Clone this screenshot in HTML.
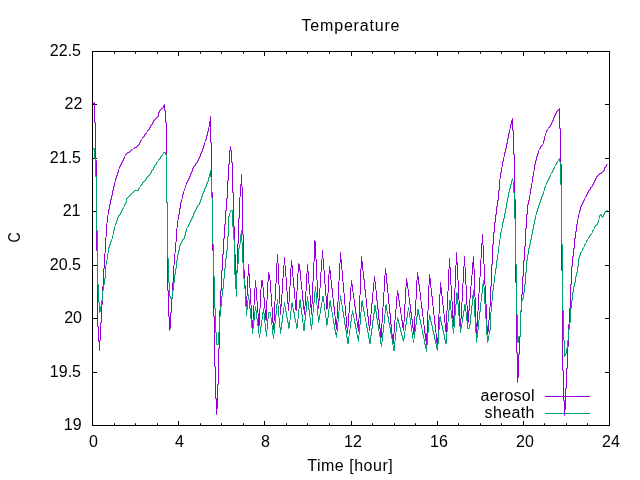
<!DOCTYPE html><html><head><meta charset="utf-8"><title>Temperature</title><style>html,body{margin:0;padding:0;background:#fff;}svg{display:block;}text{font-family:"Liberation Sans",sans-serif;font-size:16px;fill:#000;}</style></head><body>
<svg width="640" height="480" viewBox="0 0 640 480">
<rect width="640" height="480" fill="#fff"/>
<path d="M92.5,425.5v-4.5M92.5,51.5v4.5M114.5,425.5v-2.25M114.5,51.5v2.25M135.5,425.5v-2.25M135.5,51.5v2.25M157.5,425.5v-2.25M157.5,51.5v2.25M178.5,425.5v-4.5M178.5,51.5v4.5M200.5,425.5v-2.25M200.5,51.5v2.25M221.5,425.5v-2.25M221.5,51.5v2.25M243.5,425.5v-2.25M243.5,51.5v2.25M264.5,425.5v-4.5M264.5,51.5v4.5M286.5,425.5v-2.25M286.5,51.5v2.25M307.5,425.5v-2.25M307.5,51.5v2.25M329.5,425.5v-2.25M329.5,51.5v2.25M351.5,425.5v-4.5M351.5,51.5v4.5M372.5,425.5v-2.25M372.5,51.5v2.25M394.5,425.5v-2.25M394.5,51.5v2.25M415.5,425.5v-2.25M415.5,51.5v2.25M437.5,425.5v-4.5M437.5,51.5v4.5M458.5,425.5v-2.25M458.5,51.5v2.25M480.5,425.5v-2.25M480.5,51.5v2.25M501.5,425.5v-2.25M501.5,51.5v2.25M523.5,425.5v-4.5M523.5,51.5v4.5M544.5,425.5v-2.25M544.5,51.5v2.25M566.5,425.5v-2.25M566.5,51.5v2.25M587.5,425.5v-2.25M587.5,51.5v2.25M609.5,425.5v-4.5M609.5,51.5v4.5M92.5,425.5h4.5M609.5,425.5h-4.5M92.5,372.5h4.5M609.5,372.5h-4.5M92.5,318.5h4.5M609.5,318.5h-4.5M92.5,265.5h4.5M609.5,265.5h-4.5M92.5,211.5h4.5M609.5,211.5h-4.5M92.5,158.5h4.5M609.5,158.5h-4.5M92.5,104.5h4.5M609.5,104.5h-4.5M92.5,51.5h4.5M609.5,51.5h-4.5" stroke="#000" stroke-width="1" fill="none"/>
<text x="81.6" y="430.0" text-anchor="end">19</text>
<text x="81" y="377.0" text-anchor="end">19.5</text>
<text x="82" y="323.0" text-anchor="end">20</text>
<text x="81" y="270.0" text-anchor="end">20.5</text>
<text x="80.5" y="216.0" text-anchor="end">21</text>
<text x="81" y="163.0" text-anchor="end">21.5</text>
<text x="82.3" y="109.0" text-anchor="end">22</text>
<text x="81" y="56.0" text-anchor="end">22.5</text>
<text x="93.5" y="447" text-anchor="middle">0</text>
<text x="179.5" y="447" text-anchor="middle">4</text>
<text x="265.5" y="447" text-anchor="middle">8</text>
<text x="353.0" y="447" text-anchor="middle">12</text>
<text x="439.0" y="447" text-anchor="middle">16</text>
<text x="525.0" y="447" text-anchor="middle">20</text>
<text x="611.0" y="447" text-anchor="middle">24</text>
<text x="350.5" y="30.5" text-anchor="middle" textLength="98" lengthAdjust="spacing">Temperature</text>
<text x="350" y="471.3" text-anchor="middle" textLength="85.5" lengthAdjust="spacing">Time [hour]</text>
<text transform="translate(20,237.5) rotate(-90) scale(0.88,1)" text-anchor="middle">C</text>
<polyline points="92.5,104.5 94.5,102.5 94.5,122.5 95.5,122.5 95.5,160.5 96.5,160.5 96.5,250.5 97.5,250.5 97.5,326.5 98.5,326.5 98.5,341.5 99.5,341.5 99.5,350.5 99.5,340.5 100.5,340.5 100.5,322.5 101.5,322.5 101.5,304.5 102.5,304.5 102.5,286.5 103.5,285.5 103.5,268.5 104.5,268.5 104.5,253.5 105.5,252.5 105.5,237.5 106.5,236.5 106.5,223.5 107.5,222.5 107.5,215.5 108.5,214.5 108.5,209.5 109.5,209.5 109.5,204.5 110.5,204.5 110.5,199.5 111.5,199.5 111.5,195.5 112.5,195.5 112.5,190.5 113.5,190.5 113.5,186.5 114.5,186.5 114.5,182.5 115.5,181.5 115.5,178.5 116.5,178.5 116.5,175.5 117.5,175.5 117.5,172.5 118.5,172.5 118.5,169.5 119.5,168.5 119.5,166.5 120.5,166.5 120.5,164.5 121.5,164.5 121.5,162.5 122.5,162.5 122.5,160.5 123.5,160.5 123.5,158.5 124.5,158.5 124.5,156.5 125.5,155.5 125.5,154.5 126.5,154.5 126.5,153.5 127.5,153.5 127.5,152.5 129.5,152.5 129.5,151.5 130.5,151.5 130.5,150.5 131.5,150.5 131.5,149.5 132.5,149.5 133.5,148.5 134.5,148.5 134.5,147.5 136.5,147.5 136.5,146.5 137.5,146.5 137.5,145.5 138.5,145.5 138.5,144.5 139.5,144.5 139.5,142.5 140.5,142.5 140.5,140.5 141.5,140.5 141.5,139.5 142.5,138.5 142.5,137.5 143.5,137.5 143.5,136.5 144.5,136.5 144.5,134.5 145.5,134.5 145.5,133.5 146.5,133.5 146.5,132.5 147.5,131.5 147.5,130.5 148.5,130.5 148.5,129.5 149.5,129.5 149.5,127.5 150.5,127.5 150.5,125.5 151.5,125.5 151.5,124.5 152.5,124.5 152.5,122.5 153.5,122.5 153.5,120.5 154.5,120.5 154.5,119.5 155.5,119.5 155.5,118.5 156.5,118.5 156.5,117.5 157.5,117.5 157.5,116.5 158.5,116.5 158.5,112.5 159.5,112.5 159.5,110.5 160.5,110.5 160.5,109.5 161.5,109.5 161.5,108.5 162.5,108.5 162.5,107.5 163.5,107.5 163.5,105.5 164.5,105.5 164.5,104.5 164.5,110.5 165.5,110.5 165.5,122.5 166.5,122.5 166.5,202.5 167.5,202.5 167.5,290.5 168.5,290.5 168.5,316.5 169.5,316.5 169.5,330.5 169.5,328.5 170.5,328.5 170.5,312.5 171.5,312.5 171.5,298.5 172.5,298.5 172.5,282.5 173.5,282.5 173.5,265.5 174.5,264.5 174.5,253.5 175.5,252.5 175.5,242.5 176.5,241.5 176.5,228.5 177.5,227.5 177.5,220.5 178.5,219.5 178.5,214.5 179.5,214.5 179.5,208.5 180.5,208.5 180.5,202.5 181.5,202.5 181.5,199.5 182.5,198.5 182.5,194.5 183.5,194.5 183.5,191.5 184.5,190.5 184.5,188.5 185.5,187.5 185.5,185.5 186.5,184.5 186.5,182.5 187.5,182.5 187.5,180.5 188.5,180.5 188.5,178.5 189.5,178.5 189.5,176.5 190.5,176.5 190.5,173.5 191.5,173.5 191.5,171.5 192.5,171.5 192.5,168.5 193.5,168.5 193.5,166.5 194.5,166.5 194.5,165.5 195.5,165.5 195.5,163.5 196.5,163.5 196.5,162.5 197.5,162.5 197.5,160.5 198.5,160.5 198.5,158.5 199.5,158.5 199.5,156.5 200.5,156.5 200.5,153.5 201.5,153.5 201.5,151.5 202.5,151.5 202.5,148.5 203.5,148.5 203.5,145.5 204.5,145.5 204.5,142.5 205.5,141.5 205.5,139.5 206.5,139.5 206.5,135.5 207.5,135.5 207.5,131.5 208.5,131.5 208.5,127.5 209.5,126.5 209.5,121.5 210.5,120.5 210.5,116.5 210.5,142.5 211.5,142.5 211.5,192.5 212.5,192.5 212.5,250.5 213.5,250.5 213.5,316.5 214.5,316.5 214.5,366.5 215.5,366.5 215.5,398.5 216.5,398.5 216.5,414.5 216.5,408.5 217.5,408.5 217.5,384.5 218.5,384.5 218.5,348.5 219.5,348.5 219.5,310.5 220.5,310.5 220.5,290.5 221.5,290.5 221.5,270.5 222.5,270.5 222.5,254.5 223.5,254.5 223.5,238.5 224.5,238.5 224.5,224.5 225.5,224.5 225.5,210.5 226.5,210.5 226.5,198.5 227.5,198.5 227.5,180.5 228.5,180.5 228.5,164.5 229.5,164.5 229.5,150.5 230.5,150.5 230.5,146.5 230.5,150.5 231.5,150.5 231.5,162.5 232.5,162.5 232.5,192.5 233.5,192.5 233.5,226.5 234.5,226.5 234.5,254.5 235.5,254.5 235.5,288.5 236.5,288.5 236.5,272.5 237.5,272.5 237.5,243.5 238.5,243.5 238.5,218.5 239.5,218.5 239.5,197.5 240.5,196.5 240.5,184.5 241.5,183.5 241.5,174.5 241.5,185.5 242.5,187.5 242.5,234.5 243.5,234.5 243.5,268.5 244.5,270.5 244.5,284.5 245.5,285.5 245.5,298.5 246.5,299.5 246.5,306.5 246.5,296.5 247.5,295.5 247.5,276.5 248.5,275.5 248.5,264.5 248.5,272.5 249.5,273.5 249.5,287.5 250.5,288.5 250.5,304.5 251.5,305.5 251.5,319.5 252.5,320.5 252.5,328.5 252.5,320.5 253.5,319.5 253.5,305.5 254.5,304.5 254.5,288.5 255.5,287.5 255.5,280.5 255.5,286.5 256.5,287.5 256.5,300.5 257.5,301.5 257.5,312.5 258.5,313.5 258.5,326.5 259.5,325.5 259.5,309.5 260.5,307.5 260.5,289.5 261.5,288.5 261.5,280.5 262.5,280.5 262.5,286.5 263.5,287.5 263.5,297.5 264.5,297.5 264.5,308.5 265.5,309.5 265.5,319.5 266.5,320.5 266.5,300.5 267.5,299.5 267.5,282.5 268.5,281.5 268.5,272.5 268.5,274.5 269.5,274.5 269.5,279.5 270.5,280.5 270.5,292.5 271.5,293.5 271.5,306.5 272.5,307.5 272.5,322.5 273.5,323.5 273.5,329.5 273.5,321.5 274.5,320.5 274.5,301.5 275.5,300.5 275.5,283.5 276.5,282.5 276.5,263.5 277.5,262.5 277.5,254.5 277.5,262.5 278.5,264.5 278.5,284.5 279.5,285.5 279.5,303.5 280.5,304.5 280.5,314.5 280.5,307.5 281.5,306.5 281.5,294.5 282.5,293.5 282.5,278.5 283.5,277.5 283.5,265.5 284.5,264.5 284.5,257.5 284.5,264.5 285.5,265.5 285.5,276.5 286.5,277.5 286.5,290.5 287.5,291.5 287.5,303.5 288.5,304.5 288.5,310.5 288.5,302.5 289.5,301.5 289.5,286.5 290.5,285.5 290.5,268.5 291.5,267.5 291.5,260.5 291.5,264.5 292.5,265.5 292.5,276.5 293.5,277.5 293.5,287.5 294.5,287.5 294.5,298.5 295.5,299.5 295.5,309.5 296.5,310.5 296.5,291.5 297.5,290.5 297.5,273.5 298.5,272.5 298.5,263.5 298.5,264.5 299.5,264.5 299.5,270.5 300.5,270.5 300.5,280.5 301.5,281.5 301.5,289.5 302.5,290.5 302.5,300.5 303.5,300.5 303.5,309.5 304.5,310.5 304.5,314.5 304.5,306.5 305.5,305.5 305.5,291.5 306.5,290.5 306.5,273.5 307.5,272.5 307.5,264.5 307.5,270.5 308.5,271.5 308.5,283.5 309.5,284.5 309.5,294.5 310.5,295.5 310.5,307.5 311.5,308.5 311.5,314.5 311.5,304.5 312.5,303.5 312.5,282.5 313.5,280.5 313.5,262.5 314.5,261.5 314.5,240.5 315.5,241.5 315.5,258.5 316.5,259.5 316.5,279.5 317.5,280.5 317.5,297.5 318.5,299.5 318.5,308.5 318.5,301.5 319.5,300.5 319.5,288.5 320.5,287.5 320.5,272.5 321.5,271.5 321.5,259.5 322.5,258.5 322.5,250.5 322.5,257.5 323.5,258.5 323.5,269.5 324.5,270.5 324.5,283.5 325.5,284.5 325.5,295.5 326.5,296.5 326.5,309.5 327.5,308.5 327.5,293.5 328.5,292.5 328.5,274.5 329.5,273.5 329.5,266.5 329.5,269.5 330.5,270.5 330.5,279.5 331.5,280.5 331.5,288.5 332.5,288.5 332.5,297.5 333.5,298.5 333.5,306.5 334.5,306.5 334.5,315.5 335.5,316.5 335.5,324.5 336.5,324.5 336.5,329.5 336.5,319.5 337.5,318.5 337.5,302.5 338.5,300.5 338.5,281.5 339.5,280.5 339.5,263.5 340.5,262.5 340.5,252.5 340.5,258.5 341.5,259.5 341.5,269.5 342.5,270.5 342.5,281.5 343.5,282.5 343.5,292.5 344.5,293.5 344.5,304.5 345.5,305.5 345.5,315.5 346.5,316.5 346.5,327.5 347.5,328.5 347.5,333.5 347.5,327.5 348.5,326.5 348.5,313.5 349.5,312.5 349.5,301.5 350.5,300.5 350.5,287.5 351.5,286.5 351.5,280.5 351.5,284.5 352.5,284.5 352.5,291.5 353.5,292.5 353.5,298.5 354.5,299.5 354.5,306.5 355.5,306.5 355.5,313.5 356.5,313.5 356.5,320.5 357.5,321.5 357.5,327.5 358.5,327.5 358.5,331.5 358.5,319.5 359.5,317.5 359.5,295.5 360.5,294.5 360.5,269.5 361.5,267.5 361.5,256.5 361.5,261.5 362.5,261.5 362.5,270.5 363.5,271.5 363.5,279.5 364.5,279.5 364.5,289.5 365.5,289.5 365.5,297.5 366.5,298.5 366.5,307.5 367.5,308.5 367.5,316.5 368.5,316.5 368.5,325.5 369.5,326.5 369.5,330.5 369.5,325.5 370.5,325.5 370.5,314.5 371.5,313.5 371.5,303.5 372.5,303.5 372.5,292.5 373.5,291.5 373.5,282.5 374.5,281.5 374.5,276.5 374.5,280.5 375.5,281.5 375.5,289.5 376.5,290.5 376.5,300.5 377.5,300.5 377.5,309.5 378.5,309.5 378.5,319.5 379.5,319.5 379.5,328.5 380.5,328.5 380.5,338.5 381.5,337.5 381.5,323.5 382.5,322.5 382.5,307.5 383.5,306.5 383.5,292.5 384.5,291.5 384.5,275.5 385.5,274.5 385.5,268.5 385.5,272.5 386.5,273.5 386.5,283.5 387.5,283.5 387.5,292.5 388.5,293.5 388.5,303.5 389.5,304.5 389.5,313.5 390.5,313.5 390.5,324.5 391.5,324.5 391.5,333.5 392.5,334.5 392.5,344.5 393.5,343.5 393.5,333.5 394.5,332.5 394.5,320.5 395.5,319.5 395.5,309.5 396.5,308.5 396.5,296.5 397.5,295.5 397.5,290.5 397.5,293.5 398.5,293.5 398.5,300.5 399.5,300.5 399.5,306.5 400.5,307.5 400.5,313.5 401.5,314.5 401.5,320.5 402.5,320.5 402.5,327.5 403.5,327.5 403.5,330.5 403.5,322.5 404.5,321.5 404.5,304.5 405.5,303.5 405.5,287.5 406.5,286.5 406.5,278.5 406.5,281.5 407.5,282.5 407.5,288.5 408.5,289.5 408.5,296.5 409.5,297.5 409.5,304.5 410.5,304.5 410.5,312.5 411.5,312.5 411.5,319.5 412.5,319.5 412.5,327.5 413.5,327.5 413.5,334.5 414.5,334.5 414.5,316.5 415.5,315.5 415.5,300.5 416.5,298.5 416.5,280.5 417.5,279.5 417.5,272.5 417.5,275.5 418.5,276.5 418.5,284.5 419.5,284.5 419.5,291.5 420.5,292.5 420.5,300.5 421.5,301.5 421.5,308.5 422.5,308.5 422.5,316.5 423.5,317.5 423.5,324.5 424.5,325.5 424.5,333.5 425.5,333.5 425.5,340.5 426.5,341.5 426.5,345.5 426.5,333.5 427.5,332.5 427.5,311.5 428.5,309.5 428.5,285.5 429.5,284.5 429.5,274.5 429.5,277.5 430.5,278.5 430.5,287.5 431.5,288.5 431.5,296.5 432.5,296.5 432.5,305.5 433.5,306.5 433.5,314.5 434.5,315.5 434.5,324.5 435.5,324.5 435.5,332.5 436.5,333.5 436.5,342.5 437.5,343.5 437.5,346.5 437.5,337.5 438.5,336.5 438.5,314.5 439.5,313.5 439.5,294.5 440.5,293.5 440.5,282.5 440.5,286.5 441.5,287.5 441.5,295.5 442.5,296.5 442.5,304.5 443.5,305.5 443.5,313.5 444.5,314.5 444.5,322.5 445.5,323.5 445.5,331.5 446.5,332.5 446.5,311.5 447.5,309.5 447.5,291.5 448.5,290.5 448.5,269.5 449.5,268.5 449.5,258.5 449.5,266.5 450.5,267.5 450.5,284.5 451.5,285.5 451.5,300.5 452.5,301.5 452.5,318.5 453.5,319.5 453.5,326.5 453.5,315.5 454.5,314.5 454.5,289.5 455.5,287.5 455.5,265.5 456.5,264.5 456.5,252.5 456.5,261.5 457.5,262.5 457.5,279.5 458.5,280.5 458.5,299.5 459.5,300.5 459.5,317.5 460.5,318.5 460.5,328.5 460.5,319.5 461.5,318.5 461.5,302.5 462.5,301.5 462.5,283.5 463.5,282.5 463.5,266.5 464.5,265.5 464.5,256.5 464.5,266.5 465.5,267.5 465.5,284.5 466.5,285.5 466.5,304.5 467.5,305.5 467.5,321.5 468.5,322.5 468.5,310.5 469.5,310.5 469.5,299.5 470.5,298.5 470.5,286.5 471.5,285.5 471.5,275.5 472.5,274.5 472.5,262.5 473.5,261.5 473.5,256.5 473.5,267.5 474.5,269.5 474.5,296.5 475.5,297.5 475.5,321.5 476.5,323.5 476.5,336.5 476.5,327.5 477.5,326.5 477.5,311.5 478.5,310.5 478.5,293.5 479.5,292.5 479.5,277.5 480.5,276.5 480.5,259.5 481.5,258.5 481.5,243.5 482.5,242.5 482.5,234.5 482.5,244.5 483.5,245.5 483.5,263.5 484.5,264.5 484.5,284.5 485.5,285.5 485.5,303.5 486.5,304.5 486.5,324.5 487.5,326.5 487.5,334.5 487.5,331.5 488.5,331.5 488.5,320.5 489.5,319.5 489.5,307.5 490.5,306.5 490.5,286.5 491.5,286.5 491.5,264.5 492.5,264.5 492.5,244.5 493.5,244.5 493.5,232.5 494.5,232.5 494.5,222.5 495.5,222.5 495.5,214.5 496.5,214.5 496.5,206.5 497.5,206.5 497.5,200.5 498.5,200.5 498.5,190.5 499.5,190.5 499.5,179.5 500.5,178.5 500.5,172.5 501.5,172.5 501.5,167.5 502.5,166.5 502.5,161.5 503.5,161.5 503.5,157.5 504.5,156.5 504.5,152.5 505.5,152.5 505.5,148.5 506.5,148.5 506.5,143.5 507.5,143.5 507.5,138.5 508.5,138.5 508.5,133.5 509.5,133.5 509.5,129.5 510.5,128.5 510.5,124.5 511.5,124.5 511.5,120.5 512.5,120.5 512.5,118.5 512.5,130.5 513.5,130.5 513.5,154.5 514.5,154.5 514.5,198.5 515.5,199.5 515.5,282.5 516.5,282.5 516.5,352.5 517.5,352.5 517.5,382.5 517.5,378.5 518.5,377.5 518.5,354.5 519.5,354.5 519.5,336.5 520.5,336.5 520.5,312.5 521.5,311.5 521.5,294.5 522.5,294.5 522.5,276.5 523.5,276.5 523.5,260.5 524.5,260.5 524.5,246.5 525.5,246.5 525.5,228.5 526.5,228.5 526.5,214.5 527.5,214.5 527.5,204.5 528.5,204.5 528.5,200.5 529.5,200.5 529.5,195.5 530.5,194.5 530.5,188.5 531.5,188.5 531.5,183.5 532.5,182.5 532.5,176.5 533.5,176.5 533.5,171.5 534.5,170.5 534.5,164.5 535.5,164.5 535.5,160.5 536.5,160.5 536.5,156.5 537.5,156.5 537.5,153.5 538.5,153.5 538.5,150.5 539.5,149.5 539.5,148.5 540.5,148.5 540.5,146.5 541.5,146.5 541.5,145.5 542.5,145.5 542.5,144.5 543.5,143.5 543.5,140.5 544.5,140.5 544.5,136.5 545.5,135.5 545.5,133.5 546.5,132.5 546.5,130.5 547.5,130.5 547.5,129.5 548.5,128.5 548.5,127.5 549.5,127.5 549.5,126.5 550.5,126.5 550.5,124.5 551.5,124.5 551.5,122.5 552.5,122.5 552.5,120.5 553.5,120.5 553.5,117.5 554.5,117.5 554.5,115.5 555.5,115.5 555.5,113.5 556.5,113.5 556.5,111.5 557.5,111.5 557.5,110.5 558.5,110.5 558.5,109.5 559.5,109.5 559.5,108.5 559.5,128.5 560.5,128.5 560.5,164.5 561.5,164.5 561.5,270.5 562.5,270.5 562.5,370.5 563.5,370.5 563.5,400.5 564.5,400.5 564.5,415.5 564.5,410.5 565.5,409.5 565.5,388.5 566.5,388.5 566.5,368.5 567.5,368.5 567.5,346.5 568.5,346.5 568.5,324.5 569.5,324.5 569.5,308.5 570.5,308.5 570.5,284.5 571.5,284.5 571.5,266.5 572.5,266.5 572.5,256.5 573.5,256.5 573.5,248.5 574.5,248.5 574.5,238.5 575.5,238.5 575.5,231.5 576.5,231.5 576.5,224.5 577.5,224.5 577.5,219.5 578.5,218.5 578.5,214.5 579.5,213.5 579.5,210.5 580.5,210.5 580.5,206.5 581.5,206.5 581.5,204.5 582.5,204.5 582.5,202.5 583.5,202.5 583.5,200.5 584.5,200.5 584.5,198.5 585.5,197.5 585.5,196.5 586.5,196.5 586.5,194.5 587.5,194.5 587.5,192.5 588.5,192.5 588.5,190.5 589.5,190.5 589.5,189.5 590.5,189.5 590.5,187.5 591.5,187.5 591.5,186.5 592.5,186.5 592.5,184.5 593.5,184.5 593.5,182.5 594.5,182.5 594.5,180.5 595.5,180.5 595.5,178.5 596.5,178.5 596.5,176.5 597.5,176.5 597.5,175.5 598.5,175.5 598.5,174.5 599.5,174.5 599.5,173.5 601.5,173.5 601.5,172.5 602.5,172.5 602.5,171.5 603.5,171.5 603.5,170.5 604.5,170.5 604.5,167.5 605.5,167.5 605.5,166.5 606.5,166.5 606.5,164.5 607.5,164.5" fill="none" stroke="#9400d3" stroke-width="1" stroke-linejoin="bevel"/>
<text x="534.5" y="400.8" text-anchor="end" textLength="54" lengthAdjust="spacing">aerosol</text>
<path d="M545,396.5h45" stroke="#9400d3" stroke-width="1"/>
<polyline points="92.5,150.5 92.5,149.5 93.5,149.5 93.5,148.5 94.5,148.5 94.5,158.5 95.5,158.5 95.5,176.5 96.5,176.5 96.5,230.5 97.5,230.5 97.5,284.5 98.5,284.5 98.5,302.5 99.5,302.5 99.5,312.5 99.5,311.5 100.5,311.5 100.5,306.5 101.5,306.5 101.5,300.5 102.5,300.5 102.5,290.5 103.5,290.5 103.5,284.5 104.5,284.5 104.5,278.5 105.5,278.5 105.5,265.5 106.5,264.5 106.5,260.5 107.5,259.5 107.5,253.5 108.5,252.5 108.5,247.5 109.5,247.5 109.5,244.5 110.5,244.5 110.5,241.5 111.5,241.5 111.5,239.5 112.5,238.5 112.5,235.5 113.5,234.5 113.5,230.5 114.5,230.5 114.5,226.5 115.5,225.5 115.5,223.5 116.5,223.5 116.5,220.5 117.5,220.5 117.5,217.5 118.5,217.5 118.5,215.5 119.5,215.5 119.5,214.5 120.5,214.5 120.5,212.5 121.5,212.5 121.5,210.5 122.5,210.5 122.5,208.5 123.5,208.5 123.5,207.5 124.5,206.5 124.5,204.5 125.5,204.5 125.5,202.5 126.5,202.5 126.5,198.5 127.5,198.5 127.5,197.5 128.5,197.5 128.5,196.5 129.5,196.5 129.5,195.5 130.5,195.5 130.5,194.5 131.5,194.5 131.5,193.5 132.5,193.5 132.5,192.5 133.5,192.5 133.5,191.5 134.5,191.5 134.5,190.5 138.5,190.5 138.5,188.5 139.5,188.5 139.5,187.5 140.5,186.5 140.5,185.5 141.5,185.5 141.5,184.5 142.5,184.5 142.5,182.5 143.5,182.5 143.5,181.5 144.5,181.5 144.5,180.5 145.5,180.5 145.5,179.5 146.5,179.5 146.5,177.5 147.5,177.5 147.5,176.5 148.5,176.5 148.5,175.5 149.5,175.5 149.5,174.5 150.5,174.5 150.5,172.5 151.5,172.5 151.5,170.5 152.5,170.5 152.5,169.5 153.5,169.5 153.5,167.5 154.5,167.5 154.5,165.5 155.5,165.5 155.5,164.5 156.5,164.5 156.5,162.5 157.5,162.5 157.5,161.5 158.5,160.5 158.5,159.5 159.5,159.5 159.5,158.5 160.5,158.5 160.5,156.5 161.5,156.5 161.5,155.5 162.5,155.5 162.5,154.5 163.5,153.5 163.5,152.5 165.5,152.5 165.5,154.5 166.5,154.5 166.5,202.5 167.5,202.5 167.5,258.5 168.5,258.5 168.5,282.5 169.5,282.5 169.5,296.5 170.5,296.5 170.5,298.5 171.5,297.5 172.5,297.5 172.5,290.5 173.5,290.5 173.5,282.5 174.5,282.5 174.5,274.5 175.5,274.5 175.5,268.5 176.5,268.5 176.5,260.5 177.5,260.5 177.5,254.5 178.5,254.5 178.5,250.5 179.5,250.5 179.5,245.5 180.5,245.5 180.5,243.5 181.5,243.5 181.5,241.5 182.5,241.5 182.5,239.5 183.5,239.5 183.5,238.5 184.5,238.5 184.5,235.5 185.5,235.5 185.5,231.5 186.5,231.5 186.5,228.5 187.5,227.5 187.5,226.5 188.5,226.5 188.5,224.5 189.5,224.5 189.5,222.5 190.5,222.5 190.5,220.5 191.5,220.5 191.5,218.5 192.5,218.5 192.5,216.5 193.5,216.5 193.5,213.5 194.5,213.5 194.5,211.5 195.5,211.5 195.5,209.5 196.5,209.5 196.5,207.5 197.5,207.5 197.5,205.5 198.5,205.5 198.5,204.5 199.5,204.5 199.5,202.5 200.5,202.5 200.5,199.5 201.5,199.5 201.5,196.5 202.5,196.5 202.5,193.5 203.5,193.5 203.5,191.5 204.5,191.5 204.5,188.5 205.5,188.5 205.5,186.5 206.5,186.5 206.5,183.5 207.5,183.5 207.5,181.5 208.5,181.5 208.5,177.5 209.5,177.5 209.5,173.5 210.5,173.5 210.5,170.5 210.5,176.5 211.5,177.5 211.5,197.5 212.5,198.5 212.5,243.5 213.5,244.5 213.5,276.5 214.5,276.5 214.5,308.5 215.5,308.5 215.5,332.5 216.5,332.5 216.5,344.5 218.5,344.5 218.5,332.5 219.5,332.5 219.5,316.5 220.5,316.5 220.5,306.5 221.5,306.5 221.5,296.5 222.5,296.5 222.5,288.5 223.5,288.5 223.5,278.5 224.5,278.5 224.5,268.5 225.5,268.5 225.5,258.5 226.5,258.5 226.5,250.5 227.5,250.5 227.5,236.5 228.5,236.5 228.5,216.5 229.5,216.5 229.5,213.5 230.5,212.5 230.5,210.5 232.5,210.5 232.5,226.5 233.5,226.5 233.5,238.5 234.5,240.5 234.5,274.5 235.5,274.5 235.5,288.5 236.5,288.5 236.5,296.5 236.5,270.5 237.5,270.5 237.5,263.5 238.5,263.5 238.5,248.5 239.5,248.5 239.5,244.5 240.5,243.5 240.5,234.5 241.5,233.5 241.5,230.5 241.5,240.5 242.5,242.5 242.5,262.5 243.5,262.5 243.5,278.5 244.5,278.5 244.5,288.5 245.5,288.5 245.5,306.5 246.5,307.5 246.5,315.5 246.5,310.5 247.5,309.5 247.5,300.5 248.5,299.5 248.5,294.5 248.5,298.5 249.5,299.5 249.5,308.5 250.5,308.5 250.5,318.5 251.5,319.5 251.5,327.5 252.5,328.5 252.5,333.5 252.5,329.5 253.5,328.5 253.5,320.5 254.5,320.5 254.5,311.5 255.5,310.5 255.5,306.5 255.5,310.5 256.5,310.5 256.5,318.5 257.5,318.5 257.5,325.5 258.5,326.5 258.5,333.5 259.5,334.5 259.5,337.5 259.5,334.5 260.5,333.5 260.5,326.5 261.5,326.5 261.5,320.5 262.5,319.5 262.5,312.5 263.5,312.5 263.5,308.5 263.5,313.5 264.5,313.5 264.5,322.5 265.5,323.5 265.5,331.5 266.5,331.5 266.5,336.5 266.5,330.5 267.5,329.5 267.5,319.5 268.5,318.5 268.5,312.5 270.5,312.5 270.5,316.5 271.5,317.5 271.5,324.5 272.5,325.5 272.5,334.5 273.5,334.5 273.5,338.5 273.5,334.5 274.5,333.5 274.5,323.5 275.5,323.5 275.5,314.5 276.5,314.5 276.5,304.5 277.5,303.5 277.5,299.5 277.5,304.5 278.5,305.5 278.5,316.5 279.5,317.5 279.5,327.5 280.5,327.5 280.5,333.5 280.5,329.5 281.5,329.5 281.5,322.5 282.5,322.5 282.5,314.5 283.5,313.5 283.5,307.5 284.5,306.5 284.5,302.5 284.5,305.5 285.5,306.5 285.5,311.5 286.5,311.5 286.5,317.5 287.5,317.5 287.5,322.5 288.5,322.5 288.5,328.5 289.5,327.5 289.5,320.5 290.5,319.5 290.5,311.5 291.5,310.5 291.5,303.5 292.5,302.5 292.5,307.5 293.5,308.5 293.5,312.5 294.5,312.5 294.5,318.5 295.5,318.5 295.5,322.5 296.5,323.5 296.5,328.5 297.5,327.5 297.5,319.5 298.5,318.5 298.5,309.5 299.5,308.5 299.5,300.5 300.5,299.5 300.5,307.5 301.5,307.5 301.5,314.5 302.5,314.5 302.5,322.5 303.5,323.5 303.5,330.5 304.5,330.5 304.5,320.5 305.5,320.5 305.5,311.5 306.5,311.5 306.5,301.5 307.5,301.5 307.5,296.5 307.5,300.5 308.5,301.5 308.5,309.5 309.5,309.5 309.5,316.5 310.5,317.5 310.5,325.5 311.5,325.5 311.5,329.5 311.5,324.5 312.5,324.5 312.5,313.5 313.5,312.5 313.5,302.5 314.5,302.5 314.5,291.5 315.5,290.5 315.5,286.5 315.5,291.5 316.5,292.5 316.5,304.5 317.5,305.5 317.5,315.5 318.5,316.5 318.5,322.5 318.5,319.5 319.5,319.5 319.5,314.5 320.5,313.5 320.5,307.5 321.5,307.5 321.5,302.5 322.5,301.5 322.5,296.5 323.5,296.5 323.5,302.5 324.5,303.5 324.5,310.5 325.5,311.5 325.5,317.5 326.5,318.5 326.5,325.5 327.5,324.5 327.5,317.5 328.5,317.5 328.5,309.5 329.5,308.5 329.5,301.5 330.5,300.5 330.5,306.5 331.5,306.5 331.5,311.5 332.5,312.5 332.5,317.5 333.5,318.5 333.5,323.5 334.5,323.5 334.5,329.5 335.5,329.5 335.5,334.5 336.5,334.5 336.5,337.5 336.5,332.5 337.5,331.5 337.5,322.5 338.5,321.5 338.5,311.5 339.5,310.5 339.5,301.5 340.5,300.5 340.5,295.5 340.5,298.5 341.5,299.5 341.5,304.5 342.5,305.5 342.5,311.5 343.5,311.5 343.5,317.5 344.5,317.5 344.5,324.5 345.5,324.5 345.5,330.5 346.5,330.5 346.5,337.5 347.5,337.5 347.5,343.5 348.5,343.5 348.5,336.5 349.5,335.5 349.5,329.5 350.5,328.5 350.5,321.5 351.5,321.5 351.5,314.5 352.5,314.5 352.5,310.5 352.5,313.5 353.5,313.5 353.5,317.5 354.5,318.5 354.5,323.5 355.5,323.5 355.5,328.5 356.5,328.5 356.5,333.5 357.5,334.5 357.5,338.5 358.5,338.5 358.5,341.5 358.5,335.5 359.5,334.5 359.5,324.5 360.5,324.5 360.5,312.5 361.5,311.5 361.5,301.5 362.5,300.5 362.5,306.5 363.5,306.5 363.5,311.5 364.5,311.5 364.5,316.5 365.5,317.5 365.5,321.5 366.5,322.5 366.5,327.5 367.5,327.5 367.5,332.5 368.5,332.5 368.5,338.5 369.5,338.5 369.5,343.5 370.5,343.5 370.5,335.5 371.5,335.5 371.5,328.5 372.5,328.5 372.5,320.5 373.5,320.5 373.5,313.5 374.5,313.5 374.5,305.5 375.5,305.5 375.5,311.5 376.5,311.5 376.5,318.5 377.5,318.5 377.5,324.5 378.5,324.5 378.5,330.5 379.5,331.5 379.5,336.5 380.5,337.5 380.5,343.5 381.5,343.5 381.5,346.5 381.5,342.5 382.5,341.5 382.5,332.5 383.5,332.5 383.5,324.5 384.5,323.5 384.5,314.5 385.5,313.5 385.5,305.5 386.5,304.5 386.5,310.5 387.5,311.5 387.5,316.5 388.5,316.5 388.5,322.5 389.5,322.5 389.5,327.5 390.5,327.5 390.5,333.5 391.5,333.5 391.5,338.5 392.5,339.5 392.5,344.5 393.5,345.5 393.5,350.5 394.5,350.5 394.5,341.5 395.5,340.5 395.5,332.5 396.5,331.5 396.5,322.5 397.5,321.5 397.5,317.5 397.5,319.5 398.5,319.5 398.5,323.5 399.5,323.5 399.5,327.5 400.5,327.5 400.5,331.5 401.5,331.5 401.5,335.5 402.5,335.5 402.5,339.5 403.5,339.5 403.5,341.5 403.5,338.5 404.5,338.5 404.5,331.5 405.5,330.5 405.5,324.5 406.5,324.5 406.5,317.5 407.5,317.5 407.5,311.5 408.5,310.5 408.5,307.5 408.5,310.5 409.5,311.5 409.5,317.5 410.5,318.5 410.5,324.5 411.5,325.5 411.5,331.5 412.5,332.5 412.5,338.5 413.5,339.5 413.5,342.5 413.5,339.5 414.5,338.5 414.5,331.5 415.5,331.5 415.5,324.5 416.5,324.5 416.5,316.5 417.5,316.5 417.5,309.5 418.5,309.5 418.5,314.5 419.5,314.5 419.5,319.5 420.5,319.5 420.5,324.5 421.5,324.5 421.5,328.5 422.5,329.5 422.5,334.5 423.5,334.5 423.5,338.5 424.5,339.5 424.5,344.5 425.5,344.5 425.5,348.5 426.5,349.5 426.5,351.5 426.5,345.5 427.5,344.5 427.5,333.5 428.5,332.5 428.5,320.5 429.5,319.5 429.5,314.5 429.5,316.5 430.5,316.5 430.5,321.5 431.5,321.5 431.5,325.5 432.5,325.5 432.5,330.5 433.5,330.5 433.5,334.5 434.5,334.5 434.5,339.5 435.5,339.5 435.5,343.5 436.5,343.5 436.5,348.5 437.5,348.5 437.5,350.5 437.5,344.5 438.5,343.5 438.5,330.5 439.5,329.5 439.5,317.5 440.5,316.5 440.5,321.5 441.5,321.5 441.5,325.5 442.5,325.5 442.5,330.5 443.5,330.5 443.5,334.5 444.5,334.5 444.5,339.5 445.5,339.5 445.5,343.5 446.5,343.5 446.5,332.5 447.5,331.5 447.5,322.5 448.5,321.5 448.5,310.5 449.5,310.5 449.5,300.5 450.5,300.5 450.5,309.5 451.5,310.5 451.5,318.5 452.5,319.5 452.5,328.5 453.5,329.5 453.5,333.5 453.5,328.5 454.5,327.5 454.5,315.5 455.5,315.5 455.5,304.5 456.5,304.5 456.5,292.5 457.5,293.5 457.5,303.5 458.5,303.5 458.5,315.5 459.5,316.5 459.5,326.5 460.5,326.5 460.5,332.5 460.5,329.5 461.5,328.5 461.5,323.5 462.5,322.5 462.5,316.5 463.5,316.5 463.5,310.5 464.5,310.5 464.5,304.5 465.5,304.5 465.5,311.5 466.5,312.5 466.5,320.5 467.5,321.5 467.5,328.5 469.5,328.5 469.5,324.5 470.5,324.5 470.5,314.5 471.5,314.5 471.5,305.5 472.5,305.5 472.5,295.5 473.5,295.5 473.5,290.5 473.5,298.5 474.5,299.5 474.5,316.5 475.5,317.5 475.5,332.5 476.5,333.5 476.5,342.5 476.5,338.5 477.5,337.5 477.5,329.5 478.5,329.5 478.5,320.5 479.5,319.5 479.5,311.5 480.5,311.5 480.5,302.5 481.5,301.5 481.5,293.5 482.5,293.5 482.5,284.5 483.5,283.5 483.5,280.5 483.5,286.5 484.5,287.5 484.5,303.5 485.5,304.5 485.5,318.5 486.5,319.5 486.5,334.5 487.5,335.5 487.5,342.5 487.5,340.5 488.5,340.5 488.5,335.5 489.5,334.5 489.5,330.5 490.5,330.5 490.5,312.5 491.5,311.5 491.5,301.5 492.5,300.5 492.5,290.5 493.5,290.5 493.5,283.5 494.5,282.5 494.5,275.5 495.5,274.5 495.5,268.5 496.5,268.5 496.5,260.5 497.5,260.5 497.5,254.5 498.5,253.5 498.5,246.5 499.5,245.5 499.5,239.5 500.5,238.5 500.5,232.5 501.5,232.5 501.5,228.5 502.5,227.5 502.5,222.5 503.5,222.5 503.5,218.5 504.5,218.5 504.5,213.5 505.5,213.5 505.5,208.5 506.5,208.5 506.5,202.5 507.5,202.5 507.5,197.5 508.5,197.5 508.5,192.5 509.5,192.5 509.5,188.5 510.5,188.5 510.5,184.5 511.5,184.5 511.5,180.5 512.5,180.5 512.5,178.5 512.5,180.5 513.5,181.5 513.5,192.5 514.5,192.5 514.5,218.5 515.5,218.5 515.5,264.5 516.5,264.5 516.5,314.5 517.5,314.5 517.5,342.5 518.5,342.5 518.5,336.5 520.5,336.5 520.5,310.5 521.5,310.5 521.5,300.5 522.5,300.5 522.5,298.5 523.5,298.5 523.5,292.5 524.5,292.5 524.5,284.5 525.5,284.5 525.5,272.5 526.5,272.5 526.5,260.5 527.5,260.5 527.5,254.5 528.5,254.5 528.5,248.5 529.5,248.5 529.5,244.5 530.5,244.5 530.5,239.5 531.5,239.5 531.5,234.5 532.5,234.5 532.5,229.5 533.5,229.5 533.5,224.5 534.5,224.5 534.5,219.5 535.5,219.5 535.5,215.5 536.5,214.5 536.5,211.5 537.5,211.5 537.5,208.5 538.5,208.5 538.5,205.5 539.5,205.5 539.5,202.5 540.5,202.5 540.5,199.5 541.5,199.5 541.5,196.5 542.5,196.5 542.5,194.5 543.5,194.5 543.5,191.5 544.5,190.5 544.5,187.5 545.5,187.5 545.5,185.5 546.5,184.5 546.5,182.5 547.5,182.5 547.5,180.5 548.5,180.5 548.5,178.5 549.5,178.5 549.5,176.5 550.5,176.5 550.5,174.5 551.5,173.5 551.5,172.5 552.5,172.5 552.5,170.5 553.5,170.5 553.5,168.5 554.5,168.5 554.5,166.5 555.5,165.5 555.5,164.5 556.5,164.5 556.5,162.5 557.5,162.5 557.5,161.5 558.5,160.5 558.5,159.5 559.5,159.5 559.5,158.5 559.5,161.5 560.5,162.5 560.5,184.5 561.5,184.5 561.5,244.5 562.5,244.5 562.5,310.5 563.5,310.5 563.5,340.5 564.5,340.5 564.5,356.5 564.5,355.5 565.5,355.5 565.5,353.5 566.5,353.5 566.5,348.5 567.5,348.5 567.5,340.5 568.5,340.5 568.5,329.5 569.5,329.5 569.5,322.5 570.5,322.5 570.5,308.5 571.5,308.5 571.5,300.5 572.5,300.5 572.5,292.5 573.5,292.5 573.5,286.5 574.5,286.5 574.5,282.5 575.5,282.5 575.5,276.5 576.5,276.5 576.5,272.5 577.5,272.5 577.5,266.5 578.5,266.5 578.5,258.5 579.5,258.5 579.5,255.5 580.5,255.5 580.5,252.5 581.5,252.5 581.5,251.5 582.5,250.5 582.5,248.5 583.5,248.5 583.5,247.5 584.5,246.5 584.5,244.5 585.5,244.5 585.5,243.5 586.5,242.5 586.5,240.5 587.5,240.5 587.5,239.5 588.5,238.5 588.5,237.5 589.5,237.5 589.5,235.5 590.5,235.5 590.5,234.5 591.5,234.5 591.5,233.5 592.5,232.5 592.5,230.5 593.5,230.5 593.5,229.5 594.5,228.5 594.5,226.5 595.5,226.5 595.5,225.5 596.5,225.5 596.5,224.5 597.5,224.5 597.5,222.5 598.5,222.5 598.5,219.5 599.5,218.5 599.5,215.5 600.5,215.5 600.5,214.5 601.5,214.5 601.5,216.5 602.5,216.5 602.5,217.5 602.5,216.5 603.5,216.5 603.5,214.5 604.5,214.5 604.5,212.5 605.5,212.5 605.5,211.5 606.5,211.5 606.5,210.5 607.5,210.5" fill="none" stroke="#009e73" stroke-width="1" stroke-linejoin="bevel"/>
<text x="534.5" y="417.6" text-anchor="end" textLength="50" lengthAdjust="spacing">sheath</text>
<path d="M545,413.5h45" stroke="#009e73" stroke-width="1"/>
<rect x="92.5" y="51.5" width="517.0" height="374.0" fill="none" stroke="#000" stroke-width="1"/>
</svg></body></html>
